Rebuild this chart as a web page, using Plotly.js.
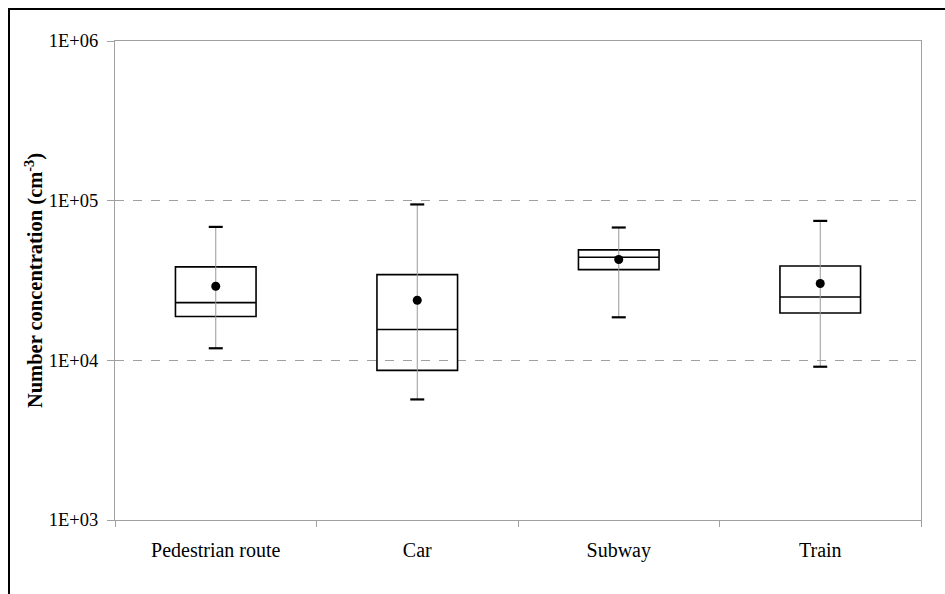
<!DOCTYPE html>
<html>
<head>
<meta charset="utf-8">
<script src="https://cdn.plot.ly/plotly-3.0.1.min.js"></script>
<style>
html,body{margin:0;padding:0;background:#fff;overflow:hidden;}
#wrap{position:relative;width:945px;height:594px;}
#chart{width:945px;height:594px;}
#frame{position:absolute;left:8px;top:8px;width:1000px;height:700px;border-left:2px solid #000;border-top:2px solid #000;pointer-events:none;}
</style>
</head>
<body>
<div id="wrap"><div id="chart"></div><div id="frame"></div></div>
<script>
const categories = ['Pedestrian route', 'Car', 'Subway', 'Train'];
const whiskerLow  = [11900, 5690, 18600, 9120];
const q1Values    = [18800, 8650, 37000, 19800];
const medians     = [23000, 15600, 44200, 24900];
const q3Values    = [38500, 34400, 49200, 39000];
const whiskerHigh = [68500, 94700, 67900, 74700];
const means       = [29100, 23800, 42800, 30300];
const yTickVals   = [1e3, 1e4, 1e5, 1e6];
const yTickText   = ['1E+03', '1E+04', '1E+05', '1E+06'];

const serif = 'Liberation Serif, Times New Roman, serif';

// whisker lines built from data
const wx = [], wy = [];
categories.forEach((c, i) => { wx.push(c, c, null); wy.push(whiskerLow[i], whiskerHigh[i], null); });
const capX = categories.concat(categories);
const capY = whiskerLow.concat(whiskerHigh);

const traces = [
  {
    type: 'box', x: categories,
    q1: q1Values, median: medians, q3: q3Values,
    lowerfence: q1Values, upperfence: q3Values,
    width: 0.4, whiskerwidth: 0,
    line: {color: '#000', width: 1.6},
    fillcolor: 'rgba(255,255,255,0)',
    boxpoints: false, showlegend: false, hoverinfo: 'skip'
  },
  {
    type: 'scatter', mode: 'lines', x: wx, y: wy,
    line: {color: '#999', width: 1}, showlegend: false, hoverinfo: 'skip'
  },
  {
    type: 'scatter', mode: 'markers', x: capX, y: capY,
    marker: {symbol: 'line-ew', size: 10, line: {color: '#000', width: 2.2}},
    showlegend: false, hoverinfo: 'skip'
  },
  {
    type: 'scatter', mode: 'markers', x: categories, y: means,
    marker: {symbol: 'circle', size: 9, color: '#000'},
    showlegend: false
  }
];

const layout = {
  width: 945, height: 594,
  margin: {l: 115, r: 24, t: 41, b: 74},
  paper_bgcolor: '#fff', plot_bgcolor: '#fff',
  font: {family: serif, color: '#000'},
  xaxis: {
    type: 'category', categoryorder: 'array', categoryarray: categories,
    range: [-0.5, 3.5],
    showline: true, linecolor: '#a0a0a0', linewidth: 1, mirror: true,
    showgrid: false, zeroline: false,
    ticks: 'outside', tickson: 'boundaries', ticklen: 6, tickcolor: '#a0a0a0',
    tickfont: {family: serif, size: 20, color: '#000'},
    ticklabelstandoff: 12
  },
  yaxis: {
    type: 'log', range: [3, 6],
    tickvals: yTickVals, ticktext: yTickText,
    showline: true, linecolor: '#a0a0a0', linewidth: 1, mirror: true,
    showgrid: true, gridcolor: '#a0a0a0', gridwidth: 1, griddash: 'dash',
    zeroline: false,
    ticks: 'outside', ticklen: 7, tickcolor: '#a0a0a0',
    tickfont: {family: serif, size: 18.5, color: '#000'},
    ticklabelstandoff: 5,
    title: {text: '<b>Number concentration (cm<sup>-3</sup>)</b>', font: {family: serif, size: 20.5, color: '#000'}, standoff: 0}
  }
};

Plotly.newPlot('chart', traces, layout, {displayModeBar: false, staticPlot: true});
</script>
</body>
</html>
